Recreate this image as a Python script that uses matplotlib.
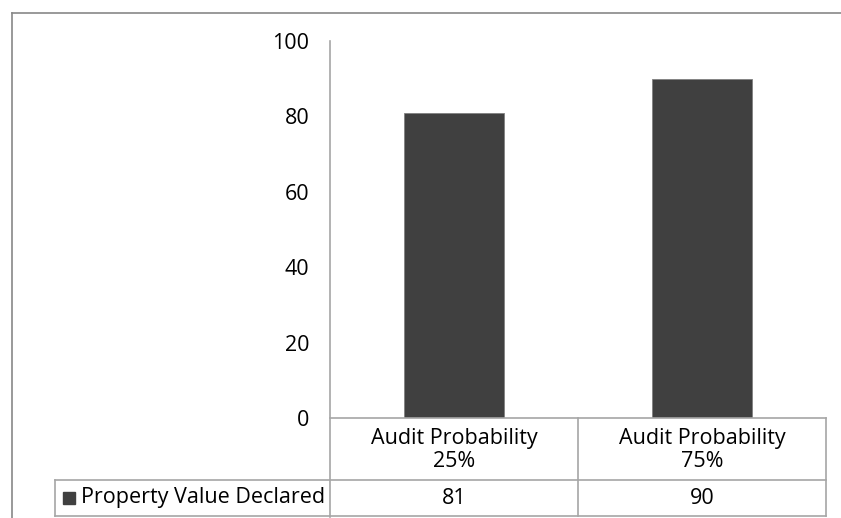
import matplotlib
matplotlib.use('Agg')
import matplotlib.pyplot as plt
from matplotlib.lines import Line2D
from matplotlib.patches import Rectangle

plt.rcParams['font.family'] = ['Open Sans', 'DejaVu Sans']

categories = ['Audit Probability\n25%', 'Audit Probability\n75%']
values = [81, 90]
series_name = 'Property Value Declared'
y_ticks = [0, 20, 40, 60, 80, 100]

W, H = 841, 518
bar_color = '#404040'
grid_color = '#a6a6a6'
fs = 15.5

fig = plt.figure(figsize=(W / 100, H / 100), dpi=100)

def fx(px):
	return px / W

def fy(py):
	return 1 - py / H

# plot area in pixel terms
left, right, top, bottom = 330, 826, 41, 418
ax = fig.add_axes([fx(left), fy(bottom), fx(right - left), fy(top) - fy(bottom)])

x = list(range(len(values)))
ax.bar(x, values, width=0.4, color=bar_color, edgecolor='#808080', linewidth=0.6)
ax.set_xlim(-0.5, len(values) - 0.5)
ax.set_ylim(0, 100)
ax.set_yticks(y_ticks)
ax.set_yticklabels([str(t) for t in y_ticks], fontsize=fs)
ax.tick_params(axis='y', length=0, pad=15)
ax.set_xticks([])
for s in ['top', 'right', 'bottom', 'left']:
	ax.spines[s].set_visible(False)

# outer chart border (only top and left visible)
fig.add_artist(Line2D([fx(12), fx(W)], [fy(13), fy(13)], color='#888888', lw=1.2))
fig.add_artist(Line2D([fx(12), fx(12)], [fy(13), fy(H)], color='#888888', lw=1.2))

# value axis line runs down through the data table
fig.add_artist(Line2D([fx(left), fx(left)], [fy(top), fy(517)], color=grid_color, lw=1.2))

# data table grid
row1, row2, row3 = bottom, 480, 516
cell_w = (right - left) / len(values)
col_edges = [left + i * cell_w for i in range(len(values) + 1)]
fig.add_artist(Line2D([fx(left), fx(right)], [fy(row1), fy(row1)], color=grid_color, lw=1.2))
for r in [row2, row3]:
	fig.add_artist(Line2D([fx(55), fx(right)], [fy(r), fy(r)], color=grid_color, lw=1.2))
fig.add_artist(Line2D([fx(55), fx(55)], [fy(row2), fy(row3)], color=grid_color, lw=1.2))
for c in col_edges[1:]:
	fig.add_artist(Line2D([fx(c), fx(c)], [fy(row1), fy(row3)], color=grid_color, lw=1.2))

# header and value cells
for i, (cat, v) in enumerate(zip(categories, values)):
	cx = left + (i + 0.5) * cell_w
	fig.text(fx(cx), fy((row1 + row2) / 2 + 1), cat, ha='center', va='center',
			fontsize=fs, linespacing=1.12)
	fig.text(fx(cx), fy((row2 + row3) / 2), str(v), ha='center', va='center', fontsize=fs)

# legend key in the table
fig.add_artist(Rectangle((fx(63), fy(504)), fx(12), fy(492) - fy(504), color=bar_color))
fig.text(fx(81), fy((row2 + row3) / 2), series_name, ha='left', va='center', fontsize=fs)

fig.savefig('out.png', dpi=100)
